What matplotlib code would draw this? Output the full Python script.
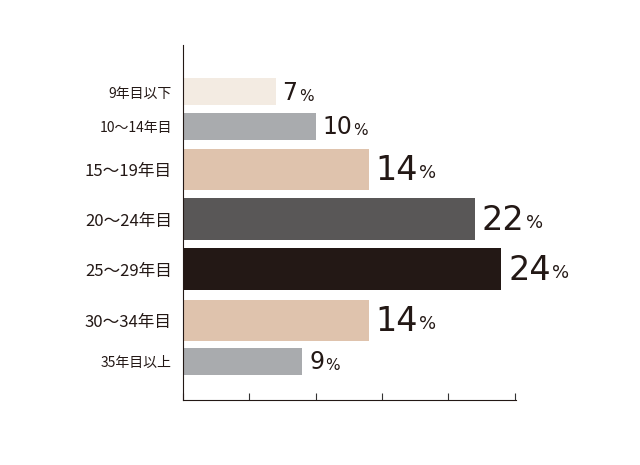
import matplotlib.pyplot as plt

plt.rcParams['font.family'] = ['Noto Sans CJK JP', 'DejaVu Sans']

categories = ['9年目以下', '10～14年目', '15～19年目', '20～24年目', '25～29年目', '30～34年目', '35年目以上']
values = [7, 10, 14, 22, 24, 14, 9]
colors = ['#f3ebe2', '#a9abae', '#dfc3ad', '#595757', '#231815', '#dfc3ad', '#a9abae']
# bar centre / height in pixel-like units (axis spans 45..400)
ypos = [92, 126, 169, 219, 269, 320, 361]
heights = [27, 27, 41, 42, 42, 41, 27]
big = [False, False, True, True, True, True, False]

fig = plt.figure(figsize=(6.4, 4.65), dpi=100)
ax = fig.add_axes([183/640, 65/465, 333/640, 355/465])
ax.barh(ypos, values, height=heights, color=colors)
ax.set_xlim(0, 25.1)
ax.set_ylim(400, 45)
ax.set_xticks([0, 5, 10, 15, 20, 25])
ax.set_xticklabels([])
ax.tick_params(axis='x', length=5, direction='in', color='#333')
ax.set_yticks(ypos)
ax.set_yticklabels(categories)
for lab, b in zip(ax.get_yticklabels(), big):
    lab.set_fontsize(12 if b else 10)
    lab.set_color('#231815')
ax.tick_params(axis='y', length=0, pad=8)
for s in ['top', 'right']:
    ax.spines[s].set_visible(False)
for s in ['left', 'bottom']:
    ax.spines[s].set_color('#231815')

fig.canvas.draw()
r = fig.canvas.get_renderer()
for v, y, b in zip(values, ypos, big):
    t = ax.text(v + 0.5, y + 1, str(v), fontsize=24 if b else 17, va='center',
                color='#231815', family='DejaVu Sans')
    bb = t.get_window_extent(r)
    x1 = ax.transData.inverted().transform((bb.x1, 0))[0]
    ax.text(x1 + 0.1, y + 4, '%', fontsize=13 if b else 11, va='center',
            color='#231815', family='DejaVu Sans')

fig.savefig('out.png', dpi=100)
